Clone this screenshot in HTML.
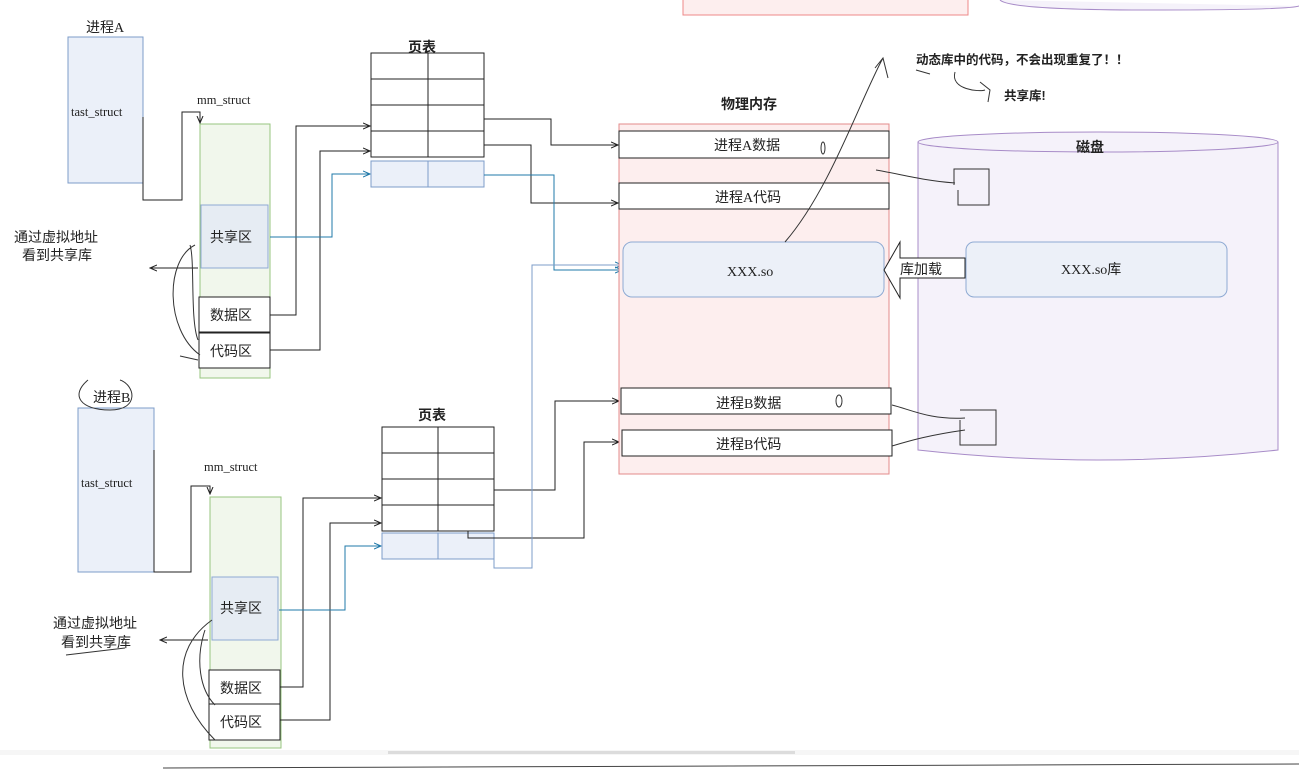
<!DOCTYPE html>
<html><head><meta charset="utf-8"><style>
html,body{margin:0;padding:0;background:#fff;width:1299px;height:769px;overflow:hidden}
svg text{font-family:"Liberation Serif","Noto Sans CJK SC",serif;fill:#222}
.b{font-family:"Liberation Sans","Noto Sans CJK SC",sans-serif;font-weight:bold}
</style></head><body>
<svg width="1299" height="769" viewBox="0 0 1299 769" xmlns="http://www.w3.org/2000/svg">
<defs>
<marker id="a" markerWidth="8" markerHeight="8" refX="7" refY="4" orient="auto"><path d="M0,1 L7,4 L0,7" fill="none" stroke="#222" stroke-width="1"/></marker>
<marker id="ab" markerWidth="8" markerHeight="8" refX="7" refY="4" orient="auto"><path d="M0,1 L7,4 L0,7" fill="none" stroke="#1f78a8" stroke-width="1"/></marker>
</defs>
<g fill="none" stroke-width="1">
<rect x="683" y="-5" width="285" height="20" fill="#fdeeee" stroke="#e88"/>
<path d="M1000,0 Q1010,10 1150,10 Q1290,10 1299,6" stroke="#a88cc8" fill="#f5f2fa"/>

<rect x="68" y="37" width="75" height="146" fill="#ebf0f9" stroke="#7c9cc9"/>
<rect x="200" y="124" width="70" height="254" fill="#f1f7ec" stroke="#97c47f"/>
<rect x="201" y="205" width="67" height="63" fill="#e6ecf3" stroke="#8eaad3"/>
<rect x="199" y="297" width="71" height="35" fill="#fff" stroke="#222"/>
<rect x="199" y="333" width="71" height="35" fill="#fff" stroke="#222"/>
<path d="M143,117 V200 H182 V112 H200 V123" stroke="#222" marker-end="url(#a)"/>
<path d="M270,315 H296 V126 H370" stroke="#222" marker-end="url(#a)"/>
<path d="M270,350 H320 V151 H370" stroke="#222" marker-end="url(#a)"/>
<path d="M270,237 H332 V174 H370" stroke="#1f78a8" marker-end="url(#ab)"/>
<path d="M198,268 H150" stroke="#222" marker-end="url(#a)"/>
<path d="M195,245 C165,260 165,330 200,355 M190,245 C195,260 190,320 198,340 M180,356 L198,360" stroke="#333"/>

<g stroke="#222" fill="#fff">
<rect x="371" y="53" width="113" height="26"/><rect x="371" y="79" width="113" height="26"/>
<rect x="371" y="105" width="113" height="26"/><rect x="371" y="131" width="113" height="26"/>
<line x1="428" y1="53" x2="428" y2="157"/></g>
<rect x="371" y="161" width="113" height="26" fill="#ebf0f9" stroke="#7c9cc9"/>
<line x1="428" y1="161" x2="428" y2="187" stroke="#7c9cc9"/>
<path d="M484,119 H551 V145 H618" stroke="#222" marker-end="url(#a)"/>
<path d="M484,145 H531 V203 H618" stroke="#222" marker-end="url(#a)"/>
<path d="M484,175 H554 V270 H622" stroke="#1f78a8" marker-end="url(#ab)"/>

<rect x="78" y="408" width="76" height="164" fill="#ebf0f9" stroke="#7c9cc9"/>
<path d="M88,380 C70,395 80,410 110,410 C140,410 135,385 120,380" stroke="#333"/>
<rect x="210" y="497" width="71" height="251" fill="#f1f7ec" stroke="#97c47f"/>
<rect x="212" y="577" width="66" height="63" fill="#e6ecf3" stroke="#8eaad3"/>
<rect x="209" y="670" width="71" height="34" fill="#fff" stroke="#222"/>
<rect x="209" y="704" width="71" height="36" fill="#fff" stroke="#222"/>
<path d="M154,450 V572 H191 V486 H210 V494" stroke="#222" marker-end="url(#a)"/>
<path d="M280,687 H303 V498 H381" stroke="#222" marker-end="url(#a)"/>
<path d="M280,720 H330 V523 H381" stroke="#222" marker-end="url(#a)"/>
<path d="M279,610 H345 V546 H381" stroke="#1f78a8" marker-end="url(#ab)"/>
<path d="M208,640 H160" stroke="#222" marker-end="url(#a)"/>
<path d="M66,655 L125,648 M212,620 C170,650 175,700 215,740 M205,630 C195,660 200,690 215,705" stroke="#333"/>

<g stroke="#222" fill="#fff">
<rect x="382" y="427" width="112" height="26"/><rect x="382" y="453" width="112" height="26"/>
<rect x="382" y="479" width="112" height="26"/><rect x="382" y="505" width="112" height="26"/>
<line x1="438" y1="427" x2="438" y2="531"/></g>
<rect x="382" y="533" width="112" height="26" fill="#ebf0f9" stroke="#7c9cc9"/>
<line x1="438" y1="533" x2="438" y2="559" stroke="#7c9cc9"/>
<path d="M494,490 H555 V401 H619" stroke="#222" marker-end="url(#a)"/>
<path d="M468,531 V538 H584 V442 H619" stroke="#222" marker-end="url(#a)"/>
<path d="M494,559 V568 H532 V265 H622" stroke="#7c9cc9" marker-end="url(#ab)"/>

<rect x="619" y="124" width="270" height="350" fill="#fdeeee" stroke="#e38b8b"/>
<rect x="619" y="131" width="270" height="27" fill="#fff" stroke="#222"/>
<rect x="619" y="183" width="270" height="26" fill="#fff" stroke="#222"/>
<rect x="623" y="242" width="261" height="55" rx="9" fill="#ecf0f8" stroke="#8eaad3"/>
<rect x="621" y="388" width="270" height="26" fill="#fff" stroke="#222"/>
<rect x="622" y="430" width="270" height="26" fill="#fff" stroke="#222"/>

<path d="M918,142 V450 Q1098,470 1278,450 V142" fill="#f5f2fa" stroke="#a88cc8"/>
<ellipse cx="1098" cy="142" rx="180" ry="10" fill="#f5f2fa" stroke="#a88cc8"/>
<rect x="966" y="242" width="261" height="55" rx="8" fill="#ecf0f8" stroke="#8eaad3"/>
<path d="M965,258 H900 V242 L884,270 L900,298 V278 H965 Z" fill="#fff" stroke="#222"/>

<path d="M954,185 V169 H989 V205 H958 V190 M955,183 C920,180 905,175 876,170" stroke="#333"/>
<path d="M960,410 H996 V445 H960 V420 M965,418 C930,420 912,410 892,405 M965,430 C930,435 912,440 892,446" stroke="#333"/>
<path d="M785,242 C830,190 860,100 883,58 M875,68 L883,58 L888,78" stroke="#333"/>
<path d="M916,70 L930,74 M955,72 C950,90 980,92 985,90 M980,82 L990,90 L988,102" stroke="#333"/>
<ellipse cx="823" cy="148" rx="2" ry="6" stroke="#333"/>
<ellipse cx="839" cy="401" rx="3" ry="6" stroke="#333"/>

<rect x="0" y="750" width="1299" height="5" fill="#f6f6f6"/>
<rect x="388" y="751" width="407" height="3" fill="#dcdcdc"/>
<path d="M163,768 L1299,764" stroke="#444"/>
</g>

<g font-size="14">
<text x="86" y="32">进程A</text>
<text x="71" y="116" font-size="12.5">tast_struct</text>
<text x="197" y="104" font-size="12.5">mm_struct</text>
<text x="210" y="242">共享区</text>
<text x="210" y="320">数据区</text>
<text x="210" y="356">代码区</text>
<text x="14" y="242">通过虚拟地址</text>
<text x="22" y="260">看到共享库</text>
<text x="93" y="402">进程B</text>
<text x="81" y="487" font-size="12.5">tast_struct</text>
<text x="204" y="471" font-size="12.5">mm_struct</text>
<text x="220" y="613">共享区</text>
<text x="220" y="693">数据区</text>
<text x="220" y="727">代码区</text>
<text x="53" y="628">通过虚拟地址</text>
<text x="61" y="647">看到共享库</text>
<text class="b" x="408" y="52">页表</text>
<text class="b" x="418" y="420">页表</text>
<text class="b" x="721" y="109">物理内存</text>
<text class="b" x="1076" y="152">磁盘</text>
<text x="714" y="150">进程A数据</text>
<text x="715" y="202">进程A代码</text>
<text x="727" y="276">XXX.so</text>
<text x="716" y="408">进程B数据</text>
<text x="716" y="449">进程B代码</text>
<text x="900" y="274">库加载</text>
<text x="1061" y="274">XXX.so库</text>
<text class="b" x="916" y="64" font-size="12.5">动态库中的代码，不会出现重复了！！</text>
<text class="b" x="1004" y="100" font-size="12.5">共享库!</text>
</g>
</svg>
</body></html>
